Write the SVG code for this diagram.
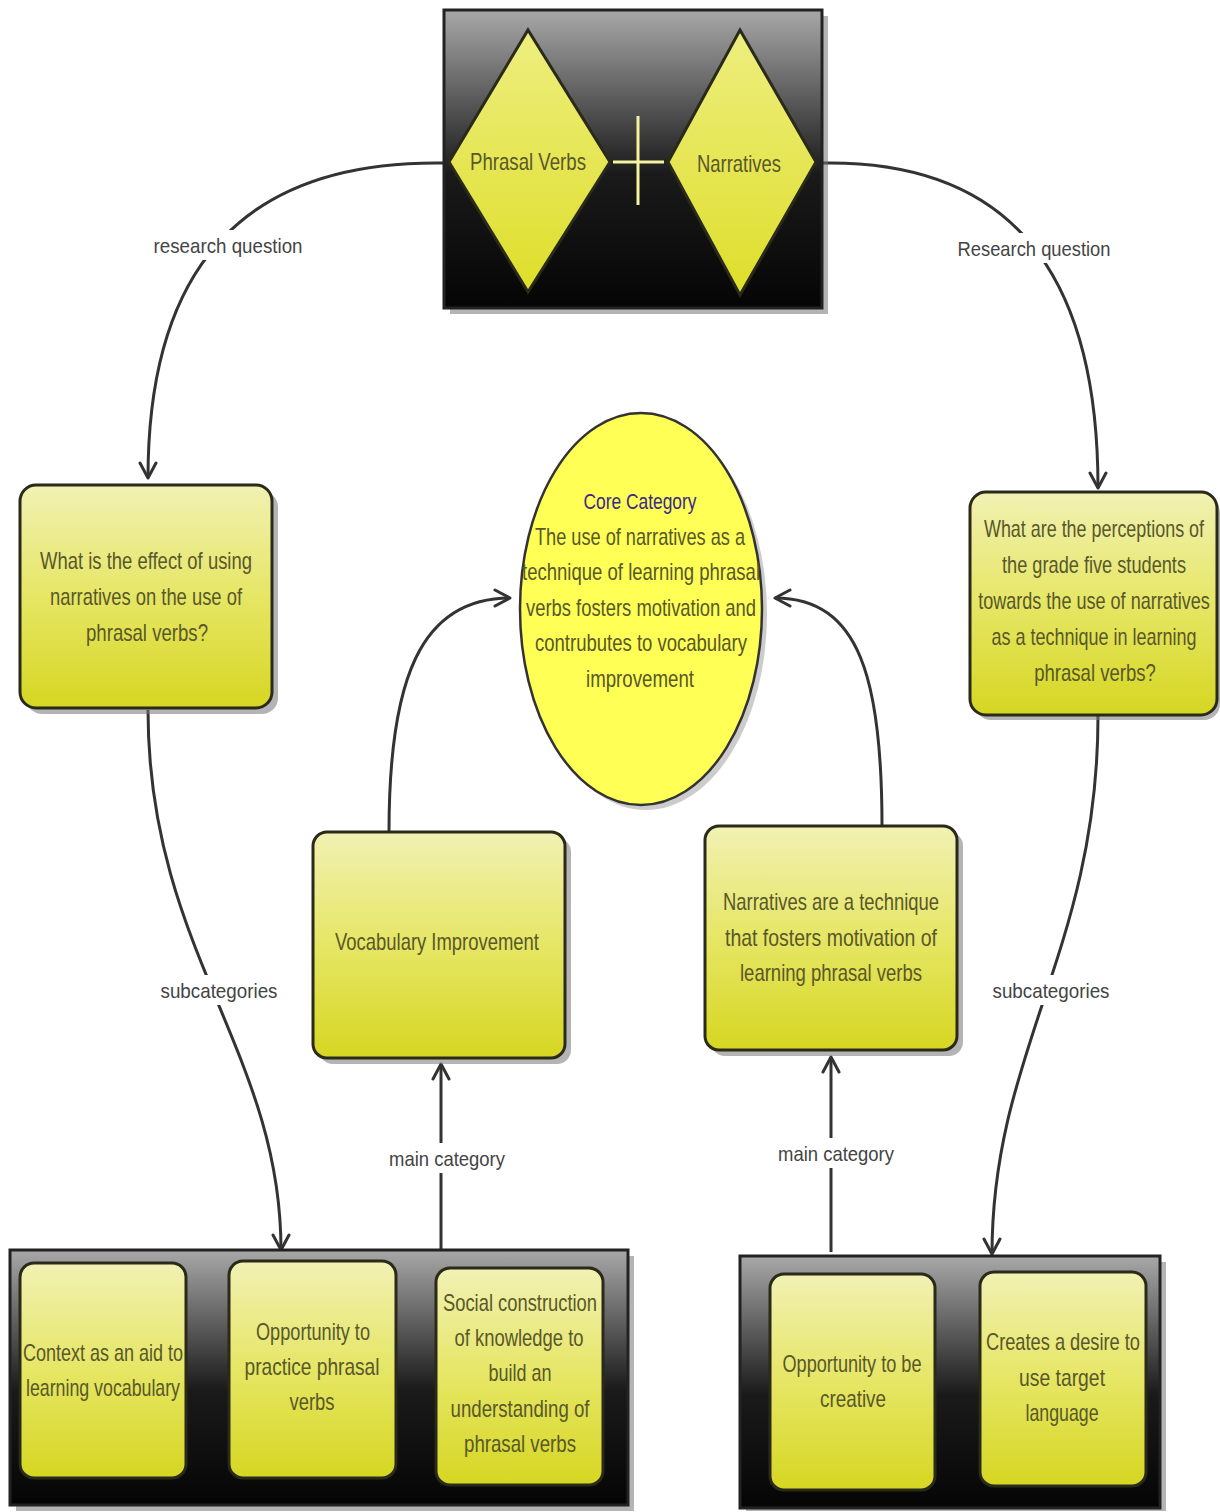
<svg xmlns="http://www.w3.org/2000/svg" width="1220" height="1512" viewBox="0 0 1220 1512">
<defs>
<linearGradient id="dark" x1="0" y1="0" x2="0" y2="1">
<stop offset="0" stop-color="#a8a8a8"/><stop offset="0.55" stop-color="#1a1a1a"/><stop offset="1" stop-color="#050505"/>
</linearGradient>
<linearGradient id="yel" x1="0" y1="0" x2="0" y2="1">
<stop offset="0" stop-color="#f1f1b4"/><stop offset="0.5" stop-color="#e6e665"/><stop offset="1" stop-color="#d6d622"/>
</linearGradient>
<linearGradient id="dia" x1="0" y1="0" x2="0" y2="1">
<stop offset="0" stop-color="#eeee80"/><stop offset="1" stop-color="#dede2a"/>
</linearGradient>
<marker id="arr" markerUnits="userSpaceOnUse" markerWidth="24" markerHeight="24" refX="17" refY="10" orient="auto" viewBox="0 0 24 20">
<path d="M2,2 L17,10 L2,18" fill="none" stroke="#333" stroke-width="3" stroke-linecap="round" stroke-linejoin="round"/>
</marker>
<style>
.t{font-family:"Liberation Sans",Arial,sans-serif;fill:#58582a;text-anchor:middle;font-size:24px}
.lbl{font-family:"Liberation Sans",Arial,sans-serif;fill:#444;text-anchor:middle;font-size:21px}
.box{fill:url(#yel);stroke:#2a2a1a;stroke-width:3}
.sh{fill:#777;opacity:0.55}
.cont{fill:url(#dark);stroke:#222;stroke-width:3}
.ln{fill:none;stroke:#333;stroke-width:3}
</style>
</defs>
<rect width="1220" height="1512" fill="#fff"/>

<g id="connectors">
<path class="ln" d="M444,163 C250,160 148,260 148,478" marker-end="url(#arr)"/>
<path class="ln" d="M822,163 C1000,160 1098,260 1098,488" marker-end="url(#arr)"/>
<path class="ln" d="M148,710 C148,950 281,1050 281,1250" marker-end="url(#arr)"/>
<path class="ln" d="M1098,716 C1098,950 992,1050 992,1254" marker-end="url(#arr)"/>
<path class="ln" d="M389,832 C389,680 420,598 510,598" marker-end="url(#arr)"/>
<path class="ln" d="M882,826 C882,680 860,598 775,598" marker-end="url(#arr)"/>
<path class="ln" d="M441,1250 L441,1064" marker-end="url(#arr)"/>
<path class="ln" d="M831,1252 L831,1057" marker-end="url(#arr)"/>
<rect x="150" y="230" width="156" height="30" fill="#fff"/>
<text class="lbl" x="228" y="253" textLength="149" lengthAdjust="spacingAndGlyphs">research question</text>
<rect x="955" y="233" width="158" height="30" fill="#fff"/>
<text class="lbl" x="1034" y="256" textLength="153" lengthAdjust="spacingAndGlyphs">Research question</text>
<rect x="158" y="975" width="124" height="30" fill="#fff"/>
<text class="lbl" x="219" y="998" textLength="117" lengthAdjust="spacingAndGlyphs">subcategories</text>
<rect x="990" y="975" width="124" height="30" fill="#fff"/>
<text class="lbl" x="1051" y="998" textLength="117" lengthAdjust="spacingAndGlyphs">subcategories</text>
<rect x="385" y="1143" width="124" height="30" fill="#fff"/>
<text class="lbl" x="447" y="1166" textLength="116" lengthAdjust="spacingAndGlyphs">main category</text>
<rect x="775" y="1138" width="124" height="30" fill="#fff"/>
<text class="lbl" x="836" y="1161" textLength="116" lengthAdjust="spacingAndGlyphs">main category</text>
</g>

<g id="top">
<rect x="450" y="16" width="378" height="298" class="sh"/>
<rect x="444" y="10" width="378" height="298" class="cont"/>
<polygon points="528,30 610,162 528,292 449,162" fill="url(#dia)" stroke="#2a2a1a" stroke-width="3"/>
<polygon points="740,30 816,162 740,295 668,162" fill="url(#dia)" stroke="#2a2a1a" stroke-width="3"/>
<line x1="638" y1="116" x2="638" y2="205" stroke="#f4f4a0" stroke-width="3"/>
<line x1="613" y1="162" x2="664" y2="162" stroke="#f4f4a0" stroke-width="3"/>
<text class="t" x="528" y="170" textLength="116" lengthAdjust="spacingAndGlyphs">Phrasal Verbs</text>
<text class="t" x="739" y="172" textLength="84" lengthAdjust="spacingAndGlyphs">Narratives</text>
</g>

<g id="q-left">
<rect x="26" y="491" width="252" height="223" rx="16" class="sh"/>
<rect x="20" y="485" width="252" height="223" rx="16" class="box"/>
<text class="t" x="146" y="569" textLength="212" lengthAdjust="spacingAndGlyphs">What is the effect of using</text>
<text class="t" x="146" y="605" textLength="192" lengthAdjust="spacingAndGlyphs">narratives on the use of</text>
<text class="t" x="147" y="641" textLength="122" lengthAdjust="spacingAndGlyphs">phrasal verbs?</text>
</g>

<g id="q-right">
<rect x="975" y="497" width="245" height="223" rx="16" class="sh"/>
<rect x="970" y="492" width="247" height="223" rx="16" class="box"/>
<text class="t" transform="translate(1094,537) scale(0.8,1)" x="0" y="0" textLength="275" lengthAdjust="spacingAndGlyphs">What are the perceptions of</text>
<text class="t" transform="translate(1094,573) scale(0.8,1)" x="0" y="0" textLength="230" lengthAdjust="spacingAndGlyphs">the grade five students</text>
<text class="t" transform="translate(1094,609) scale(0.75,1)" x="0" y="0" textLength="309" lengthAdjust="spacingAndGlyphs">towards the use of narratives</text>
<text class="t" transform="translate(1094,645) scale(0.8,1)" x="0" y="0" textLength="256" lengthAdjust="spacingAndGlyphs">as a technique in learning</text>
<text class="t" transform="translate(1095,681) scale(0.8,1)" x="0" y="0" textLength="152" lengthAdjust="spacingAndGlyphs">phrasal verbs?</text>
</g>

<g id="core">
<ellipse cx="646" cy="614" rx="121" ry="196" fill="#999" opacity="0.5"/>
<ellipse cx="641" cy="609" rx="121" ry="196" fill="#ffff55" stroke="#333" stroke-width="2.5"/>
<text class="t" x="640" y="509" style="fill:#3a2a88;font-size:22px" textLength="113" lengthAdjust="spacingAndGlyphs">Core Category</text>
<text class="t" x="640" y="545" textLength="210" lengthAdjust="spacingAndGlyphs">The use of narratives as a</text>
<text class="t" x="641" y="580" textLength="238" lengthAdjust="spacingAndGlyphs">technique of learning  phrasal</text>
<text class="t" x="641" y="616" textLength="230" lengthAdjust="spacingAndGlyphs">verbs fosters motivation and</text>
<text class="t" x="641" y="651" textLength="212" lengthAdjust="spacingAndGlyphs">contrubutes to vocabulary</text>
<text class="t" x="640" y="687" textLength="108" lengthAdjust="spacingAndGlyphs">improvement</text>
</g>

<g id="vocab">
<rect x="319" y="838" width="252" height="226" rx="14" class="sh"/>
<rect x="313" y="832" width="252" height="226" rx="14" class="box"/>
<text class="t" x="437" y="950" textLength="204" lengthAdjust="spacingAndGlyphs">Vocabulary Improvement</text>
</g>

<g id="motivation">
<rect x="711" y="832" width="252" height="224" rx="14" class="sh"/>
<rect x="705" y="826" width="252" height="224" rx="14" class="box"/>
<text class="t" x="831" y="910" textLength="216" lengthAdjust="spacingAndGlyphs">Narratives are a technique</text>
<text class="t" x="831" y="946" textLength="212" lengthAdjust="spacingAndGlyphs">that fosters  motivation  of</text>
<text class="t" x="831" y="981" textLength="182" lengthAdjust="spacingAndGlyphs">learning phrasal verbs</text>
</g>

<g id="sub-left">
<rect x="16" y="1256" width="618" height="255" class="sh"/>
<rect x="10" y="1250" width="618" height="255" class="cont"/>
<rect x="20" y="1263" width="166" height="215" rx="14" class="box"/>
<rect x="229" y="1261" width="167" height="217" rx="14" class="box"/>
<rect x="436" y="1268" width="167" height="217" rx="14" class="box"/>
<text class="t" x="103" y="1361" textLength="160" lengthAdjust="spacingAndGlyphs">Context as an aid to</text>
<text class="t" x="103" y="1396" textLength="154" lengthAdjust="spacingAndGlyphs">learning vocabulary</text>
<text class="t" x="313" y="1340" textLength="114" lengthAdjust="spacingAndGlyphs">Opportunity to</text>
<text class="t" x="312" y="1375" textLength="135" lengthAdjust="spacingAndGlyphs">practice phrasal</text>
<text class="t" x="312" y="1410" textLength="45" lengthAdjust="spacingAndGlyphs">verbs</text>
<text class="t" x="520" y="1311" textLength="154" lengthAdjust="spacingAndGlyphs">Social construction</text>
<text class="t" x="519" y="1346" textLength="129" lengthAdjust="spacingAndGlyphs">of knowledge to</text>
<text class="t" x="520" y="1381" textLength="63" lengthAdjust="spacingAndGlyphs">build an</text>
<text class="t" x="520" y="1417" textLength="139" lengthAdjust="spacingAndGlyphs">understanding of</text>
<text class="t" x="520" y="1452" textLength="112" lengthAdjust="spacingAndGlyphs">phrasal verbs</text>
</g>

<g id="sub-right">
<rect x="746" y="1262" width="420" height="249" class="sh"/>
<rect x="740" y="1256" width="420" height="252" class="cont"/>
<rect x="770" y="1274" width="165" height="216" rx="14" class="box"/>
<rect x="980" y="1272" width="166" height="214" rx="14" class="box"/>
<text class="t" x="852" y="1372" textLength="139" lengthAdjust="spacingAndGlyphs">Opportunity to be</text>
<text class="t" x="853" y="1407" textLength="66" lengthAdjust="spacingAndGlyphs">creative</text>
<text class="t" x="1063" y="1350" textLength="154" lengthAdjust="spacingAndGlyphs">Creates a desire to</text>
<text class="t" x="1062" y="1386" textLength="86" lengthAdjust="spacingAndGlyphs">use target</text>
<text class="t" x="1062" y="1421" textLength="73" lengthAdjust="spacingAndGlyphs">language</text>
</g>
</svg>
